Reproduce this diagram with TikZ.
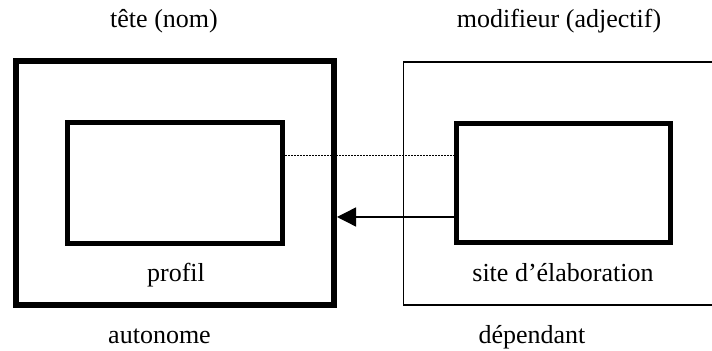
\documentclass[tikz,border=0pt]{standalone}
\usepackage{fontspec}
\setmainfont{Liberation Serif}
\usetikzlibrary{arrows.meta}
\begin{document}
\begin{tikzpicture}[x=0.5pt,y=-0.5pt,
  box/.style={draw, rectangle, inner sep=0pt},
  label/.style={font=\fontsize{13pt}{15pt}\selectfont, anchor=base, inner sep=0pt},
  link/.style={line width=0.5pt, dash pattern=on 0.75pt off 0.75pt},
  dep/.style={line width=0.7pt, -{Triangle[length=9.5pt,width=9.5pt]}}]
\useasboundingbox (0,0) rectangle (712,351);
\clip (0,0) rectangle (712,351);
% boxes
\node[box, line width=3pt, minimum width=159pt, minimum height=122pt] (outL) at (175,183) {};
\node[box, line width=2.5pt, minimum width=107.5pt, minimum height=60.5pt] (inL) at (175,183) {};
\node[box, line width=0.6pt, minimum width=163.25pt, minimum height=121.5pt] (outR) at (566.75,183.5) {};
\node[box, line width=2.5pt, minimum width=107pt, minimum height=59.5pt] (inR) at (563.5,183) {};
% connectors
\coordinate (ydot) at (0,156);
\coordinate (yarr) at (0,217);
\draw[link] (inL.east |- ydot) -- (inR.west |- ydot);
\draw[dep] (inR.west |- yarr) -- (outL.east |- yarr);
% labels
\node[label] (tete) at (164,28) {tête (nom)};
\node[label] (modif) at (559,28) {modifieur (adjectif)};
\node[label] (profil) at (176,282) {profil};
\node[label] (site) at (563,282) {site d’élaboration};
\node[label] (auto) at (159.5,344) {autonome};
\node[label] (dep) at (532,344) {dépendant};
\end{tikzpicture}
\end{document}
